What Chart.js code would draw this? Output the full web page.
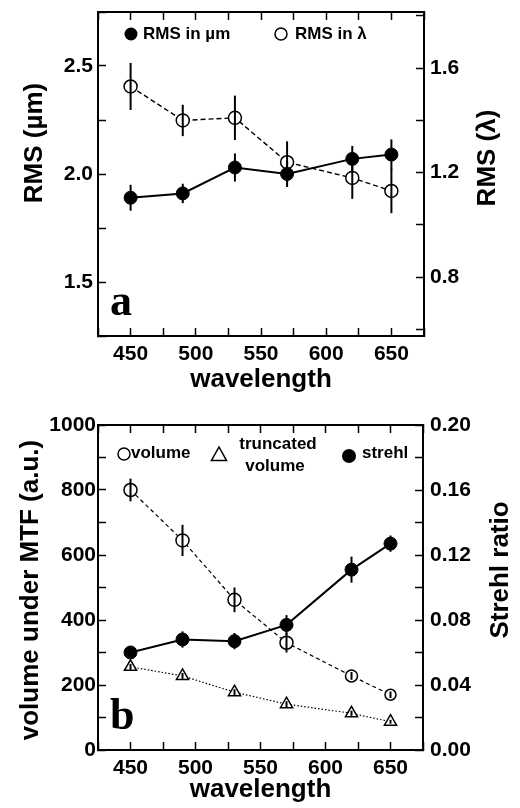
<!DOCTYPE html>
<html>
<head>
<meta charset="utf-8">
<script src="https://cdn.jsdelivr.net/npm/chart.js@4"></script>
<style>
  body { margin: 0; background: #fff; }
  canvas { display: block; }
</style>
</head>
<body>
<canvas id="chartA" width="520" height="400"></canvas>
<canvas id="chartB" width="520" height="408"></canvas>
<script>
'use strict';

// wavelengths (nm) measured
const wavelengths = [450, 490, 530, 570, 620, 650];

// panel a
const rmsUm = [1.89, 1.91, 2.03, 2.00, 2.07, 2.09];
const rmsUmErr = [0.06, 0.045, 0.065, 0.06, 0.06, 0.07];
const rmsLambda = [1.53, 1.40, 1.41, 1.24, 1.18, 1.13];
const rmsLambdaErr = [0.09, 0.06, 0.085, 0.08, 0.08, 0.085];

// panel b
const volume = [800, 645, 462, 330, 228, 170];
const volumeErr = [35, 48, 38, 30, 12, 10];
const truncVolume = [256, 228, 178, 141, 113, 87];
const truncVolumeErr = [9, 9, 9, 9, 8, 6];
const strehl = [0.060, 0.068, 0.067, 0.077, 0.111, 0.127];
const strehlErr = [0.002, 0.005, 0.005, 0.006, 0.008, 0.005];

// tick labels
const xTickLabels = [450, 500, 550, 600, 650];
const rmsUmTickLabels = [1.5, 2.0, 2.5];
const rmsLambdaTickLabels = [0.8, 1.2, 1.6];
const volumeTickLabels = [0, 200, 400, 600, 800, 1000];
const strehlTickLabels = [0.00, 0.04, 0.08, 0.12, 0.16, 0.20];

const SANS = "'Liberation Sans', Arial, sans-serif";
const tickFont = { family: SANS, size: 21, weight: 'bold' };

function points(ys) {
  return wavelengths.map((w, i) => ({ x: w, y: ys[i] }));
}

function hasLabel(list, v, digits) {
  return list.some(t => Math.abs(t - v) < 1e-6) ? v.toFixed(digits) : '';
}

function gridOpts() {
  return { drawOnChartArea: false, drawTicks: true, tickLength: -8, tickColor: '#000', tickWidth: 1.5 };
}

function borderOpts() {
  return { display: true, color: '#000', width: 2 };
}

// fixed axis box sizes, no extra room for labels hanging past the ends
function fixSize(s, w, h) {
  if (w !== null) s.width = w;
  if (h !== null) s.height = h;
  s.paddingTop = 0;
  s.paddingBottom = 0;
  s.paddingLeft = 0;
  s.paddingRight = 0;
}

// error bars, drawn through each marker from the dataset's own y scale
const errorBarPlugin = {
  id: 'errorBars',
  afterDatasetsDraw(chart) {
    const ctx = chart.ctx;
    ctx.save();
    ctx.strokeStyle = '#000';
    ctx.lineWidth = 2;
    chart.data.datasets.forEach((ds, i) => {
      if (!ds.errors) return;
      const meta = chart.getDatasetMeta(i);
      const yScale = chart.scales[ds.yAxisID];
      meta.data.forEach((pt, j) => {
        const v = ds.data[j].y;
        const e = ds.errors[j];
        ctx.beginPath();
        ctx.moveTo(pt.x, yScale.getPixelForValue(v - e));
        ctx.lineTo(pt.x, yScale.getPixelForValue(v + e));
        ctx.stroke();
      });
    });
    ctx.restore();
  }
};

function drawMarker(ctx, style, x, y, r) {
  ctx.save();
  ctx.strokeStyle = '#000';
  ctx.lineWidth = 1.5;
  ctx.beginPath();
  if (style === 'triangle') {
    ctx.moveTo(x, y - r);
    ctx.lineTo(x + r * 0.95, y + r * 0.7);
    ctx.lineTo(x - r * 0.95, y + r * 0.7);
    ctx.closePath();
    ctx.stroke();
  } else {
    ctx.arc(x, y, r, 0, Math.PI * 2);
    if (style === 'filled') {
      ctx.fillStyle = '#000';
      ctx.fill();
    } else {
      ctx.stroke();
    }
  }
  ctx.restore();
}

function drawText(ctx, text, x, y, font, align, rotate) {
  ctx.save();
  ctx.fillStyle = '#000';
  ctx.font = font;
  ctx.textAlign = align || 'left';
  ctx.textBaseline = 'middle';
  ctx.translate(x, y);
  if (rotate) ctx.rotate(-Math.PI / 2);
  ctx.fillText(text, 0, 0);
  ctx.restore();
}

// axis titles that read bottom-to-top on both sides, the legend and the panel letter
function decorPlugin(opts) {
  return {
    id: 'decor',
    afterDraw(chart) {
      const ctx = chart.ctx;
      const a = chart.chartArea;
      const titleFont = 'bold 26px ' + SANS;
      const legendFont = 'bold 17px ' + SANS;
      drawText(ctx, opts.leftTitle, opts.leftTitleX, opts.leftTitleY, titleFont, 'center', true);
      drawText(ctx, opts.rightTitle, opts.rightTitleX, opts.rightTitleY, titleFont, 'center', true);
      opts.legend.forEach(item => {
        drawMarker(ctx, item.style, a.left + item.dx, a.top + item.dy, item.r);
        item.lines.forEach(line => {
          drawText(ctx, line.text, a.left + line.dx, a.top + line.dy, legendFont, line.align);
        });
      });
      ctx.save();
      ctx.fillStyle = '#000';
      ctx.font = "bold 44px 'Liberation Serif', 'Times New Roman', serif";
      ctx.textBaseline = 'alphabetic';
      ctx.fillText(opts.letter, a.left + 12, a.bottom - 21);
      ctx.restore();
    }
  };
}

function xAxes(topHeight, bottomHeight, titlePad) {
  return {
    x: {
      type: 'linear',
      position: 'bottom',
      min: 425,
      max: 675,
      ticks: {
        stepSize: 25,
        color: '#000',
        font: tickFont,
        padding: 14,
        maxRotation: 0,
        autoSkip: false,
        callback: v => hasLabel(xTickLabels, v, 0)
      },
      grid: gridOpts(),
      border: borderOpts(),
      title: {
        display: true,
        text: 'wavelength',
        color: '#000',
        font: { family: SANS, size: 26, weight: 'bold' },
        padding: { top: 0, bottom: titlePad }
      },
      afterFit: s => fixSize(s, null, bottomHeight)
    },
    xTop: {
      type: 'linear',
      position: 'top',
      min: 425,
      max: 675,
      ticks: { stepSize: 25, autoSkip: false, callback: () => '' },
      grid: gridOpts(),
      border: borderOpts(),
      afterFit: s => fixSize(s, null, topHeight)
    }
  };
}

function yAxis(position, min, max, step, labels, digits, width, pad) {
  return {
    type: 'linear',
    position: position,
    min: min,
    max: max,
    ticks: {
      stepSize: step,
      includeBounds: false,
      autoSkip: false,
      color: '#000',
      font: tickFont,
      padding: pad,
      callback: v => hasLabel(labels, v, digits)
    },
    grid: gridOpts(),
    border: borderOpts(),
    afterFit: s => fixSize(s, width, null)
  };
}

function baseOptions(scales) {
  return {
    responsive: false,
    animation: false,
    layout: { padding: 0 },
    plugins: { legend: { display: false }, tooltip: { enabled: false } },
    scales: scales
  };
}

// panel a
const scalesA = xAxes(12, 64, 5);
scalesA.y = yAxis('left', 1.25, 2.75, 0.25, rmsUmTickLabels, 1, 98, 13);
scalesA.y2 = yAxis('right', 0.575, 1.815, 0.2, rmsLambdaTickLabels, 1, 96, 14);

new Chart(document.getElementById('chartA'), {
  type: 'line',
  data: {
    datasets: [
      {
        label: 'RMS in \u00b5m',
        data: points(rmsUm),
        errors: rmsUmErr,
        yAxisID: 'y',
        borderColor: '#000',
        borderWidth: 2,
        pointRadius: 6.5,
        pointBackgroundColor: '#000',
        pointBorderColor: '#000',
        pointBorderWidth: 1
      },
      {
        label: 'RMS in \u03bb',
        data: points(rmsLambda),
        errors: rmsLambdaErr,
        yAxisID: 'y2',
        borderColor: '#000',
        borderWidth: 1.4,
        borderDash: [5, 3],
        pointRadius: 6.5,
        pointBackgroundColor: '#fff',
        pointBorderColor: '#000',
        pointBorderWidth: 1.5
      }
    ]
  },
  options: baseOptions(scalesA),
  plugins: [errorBarPlugin, decorPlugin({
    leftTitle: 'RMS (\u00b5m)', leftTitleX: 35, leftTitleY: 143,
    rightTitle: 'RMS (\u03bb)', rightTitleX: 488, rightTitleY: 158,
    letter: 'a',
    legend: [
      { style: 'filled', dx: 33, dy: 22, r: 6.5, lines: [{ text: 'RMS in \u00b5m', dx: 45, dy: 22 }] },
      { style: 'open', dx: 183, dy: 22, r: 6, lines: [{ text: 'RMS in \u03bb', dx: 197, dy: 22 }] }
    ]
  })]
});

// panel b
const scalesB = xAxes(25, 58, 3);
scalesB.y = yAxis('left', 0, 1000, 100, volumeTickLabels, 0, 98, 10);
scalesB.y2 = yAxis('right', 0, 0.2, 0.02, strehlTickLabels, 2, 97, 15);

new Chart(document.getElementById('chartB'), {
  type: 'line',
  data: {
    datasets: [
      {
        label: 'volume',
        data: points(volume),
        errors: volumeErr,
        yAxisID: 'y',
        borderColor: '#000',
        borderWidth: 1.2,
        borderDash: [4, 3],
        pointRadius: [6.5, 6.5, 6.5, 6.5, 6, 5.5],
        pointBackgroundColor: '#fff',
        pointBorderColor: '#000',
        pointBorderWidth: 1.5
      },
      {
        label: 'truncated volume',
        data: points(truncVolume),
        errors: truncVolumeErr,
        yAxisID: 'y',
        borderColor: '#000',
        borderWidth: 1.2,
        borderDash: [1.5, 2],
        pointStyle: 'triangle',
        pointRadius: 7,
        pointBackgroundColor: '#fff',
        pointBorderColor: '#000',
        pointBorderWidth: 1.5
      },
      {
        label: 'strehl',
        data: points(strehl),
        errors: strehlErr,
        yAxisID: 'y2',
        borderColor: '#000',
        borderWidth: 2,
        pointRadius: 6.5,
        pointBackgroundColor: '#000',
        pointBorderColor: '#000',
        pointBorderWidth: 1
      }
    ]
  },
  options: baseOptions(scalesB),
  plugins: [errorBarPlugin, decorPlugin({
    leftTitle: 'volume under MTF (a.u.)', leftTitleX: 31, leftTitleY: 190,
    rightTitle: 'Strehl ratio', rightTitleX: 501, rightTitleY: 170,
    letter: 'b',
    legend: [
      { style: 'open', dx: 26, dy: 29, r: 6, lines: [{ text: 'volume', dx: 33, dy: 28 }] },
      { style: 'triangle', dx: 121, dy: 30, r: 8, lines: [
        { text: 'truncated', dx: 180, dy: 19, align: 'center' },
        { text: 'volume', dx: 177, dy: 41, align: 'center' }
      ] },
      { style: 'filled', dx: 251, dy: 31, r: 7, lines: [{ text: 'strehl', dx: 264, dy: 28 }] }
    ]
  })]
});
</script>
</body>
</html>
